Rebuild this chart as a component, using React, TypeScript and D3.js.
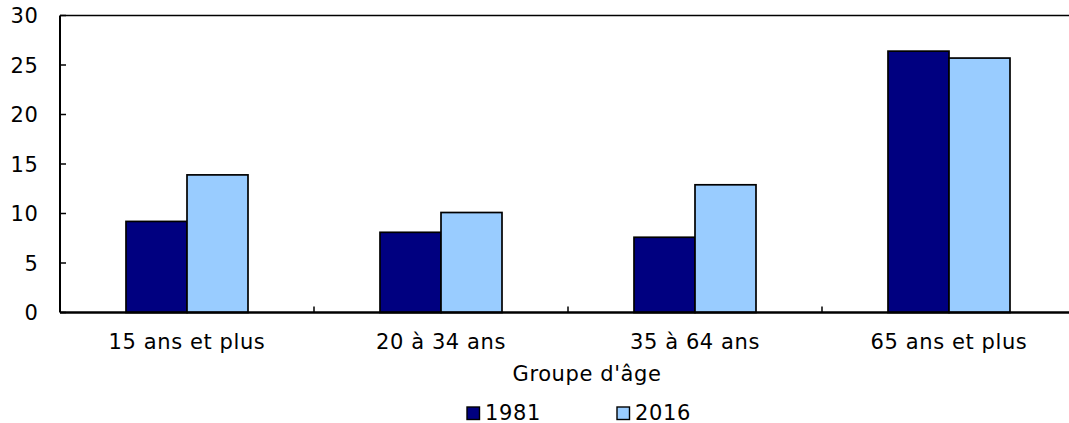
import React from 'react';
import * as d3 from 'd3';

const categories = ['15 ans et plus', '20 à 34 ans', '35 à 64 ans', '65 ans et plus'];
const series = ['1981', '2016'];
const values1981 = [9.2, 8.1, 7.6, 26.4];
const values2016 = [13.9, 10.1, 12.9, 25.7];
const yTicks = [0, 5, 10, 15, 20, 25, 30];
const axisTitle = "Groupe d'âge";

const colors = ['#000080', '#99ccff'];
const font = 'DejaVu Sans, Verdana, sans-serif';
const fs = 21;
const ls = 0.6;

const App = () => {
  const width = 1069;
  const height = 423;
  const left = 60;
  const top = 15.5;
  const bottom = 312.5;
  const bandW = 254;

  const x = d3.scaleBand<string>().domain(categories).range([left, left + bandW * categories.length]);
  const y = d3.scaleLinear().domain([0, 30]).range([bottom, top]);
  // bars of width 61 sit side by side, centred in each band
  const barW = 61;
  const allValues = [values1981, values2016];

  return (
    <div style={{ position: 'absolute', left: 0, top: 0 }}>
      <svg width={width} height={height} style={{ display: 'block', background: '#fff' }}>
        {/* top border */}
        <line x1={left} x2={width} y1={top} y2={top} stroke="#000" strokeWidth={1.5} />
        {categories.map((c, i) =>
          series.map((s, j) => {
            const v = allValues[j][i];
            const bx = (x(c) as number) + x.bandwidth() / 2 + (j - 1) * barW;
            return (
              <rect
                key={c + s}
                x={bx}
                y={y(v)}
                width={barW}
                height={y(0) - y(v)}
                fill={colors[j]}
                stroke="#000"
                strokeWidth={1.7}
              />
            );
          })
        )}
        {/* left axis */}
        <line x1={left} x2={left} y1={top} y2={bottom} stroke="#000" strokeWidth={2} />
        {yTicks.map((t) => (
          <g key={t}>
            <line x1={left} x2={left + 6} y1={y(t)} y2={y(t)} stroke="#000" strokeWidth={1.5} />
            <text
              x={38.5}
              y={y(t)}
              dy="0.36em"
              textAnchor="end"
              fontFamily={font}
              fontSize={fs}
              letterSpacing={ls}
              fill="#000"
            >
              {t}
            </text>
          </g>
        ))}
        {/* bottom axis */}
        <line x1={left} x2={width} y1={bottom} y2={bottom} stroke="#000" strokeWidth={2.5} />
        {categories.slice(1).map((c) => (
          <line
            key={c}
            x1={x(c) as number}
            x2={x(c) as number}
            y1={bottom}
            y2={bottom - 6}
            stroke="#000"
            strokeWidth={1.5}
          />
        ))}
        {categories.map((c) => (
          <text
            key={c}
            x={(x(c) as number) + x.bandwidth() / 2}
            y={349}
            textAnchor="middle"
            fontFamily={font}
            fontSize={fs}
            letterSpacing={ls}
            fill="#000"
          >
            {c}
          </text>
        ))}
        <text
          x={587}
          y={381}
          textAnchor="middle"
          fontFamily={font}
          fontSize={fs}
          letterSpacing={ls}
          fill="#000"
        >
          {axisTitle}
        </text>
        {series.map((s, j) => {
          const lx = 467 + j * 150;
          return (
            <g key={s}>
              <rect x={lx} y={407} width={12.5} height={12.5} fill={colors[j]} stroke="#000" strokeWidth={1.4} />
              <text x={lx + 18} y={419.5} fontFamily={font} fontSize={fs} letterSpacing={ls} fill="#000">
                {s}
              </text>
            </g>
          );
        })}
      </svg>
    </div>
  );
};

export default App;
